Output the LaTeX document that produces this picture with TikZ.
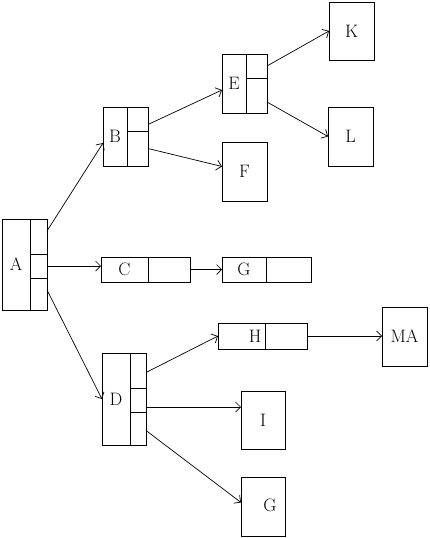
\documentclass[tikz,border=0pt]{standalone}
\usepackage{tikz}
\usetikzlibrary{arrows.meta}

\tikzset{
    cell/.style={draw, line width=0.8pt, inner sep=0pt, outer sep=0pt, anchor=north west,
        font=\fontsize{18}{20}\selectfont},
    lbl/.style={font=\fontsize{18}{20}\selectfont},
    link/.style={line width=0.7pt, -{Straight Barb[length=5pt,width=10pt]}}
}

\begin{document}
\begin{tikzpicture}[x=1pt,y=-1pt]
    \useasboundingbox (0,0) rectangle (429,538);

    % root A
    \node[cell, minimum width=28, minimum height=91] (Al) at (2,219) {A};
    \node[cell, minimum width=17, minimum height=35] (A1) at (30,219) {};
    \node[cell, minimum width=17, minimum height=24] (A2) at (30,254) {};
    \node[cell, minimum width=17, minimum height=32] (A3) at (30,278) {};

    % upper branch
    \node[cell, minimum width=24, minimum height=59] (Bl) at (103,107) {B};
    \node[cell, minimum width=21, minimum height=24] (B1) at (127,107) {};
    \node[cell, minimum width=21, minimum height=35] (B2) at (127,131) {};
    \node[cell, minimum width=24, minimum height=59] (El) at (222,54) {E};
    \node[cell, minimum width=21, minimum height=24] (E1) at (246,54) {};
    \node[cell, minimum width=21, minimum height=35] (E2) at (246,78) {};
    \node[cell, minimum width=45, minimum height=59] (F) at (222,142) {F};
    \node[cell, minimum width=45, minimum height=58] (K) at (329,2) {K};
    \node[cell, minimum width=45, minimum height=59] (L) at (328,107) {L};

    % middle branch
    \node[cell, minimum width=47, minimum height=25] (Cl) at (101,257) {C};
    \node[cell, minimum width=42, minimum height=25] (C1) at (148,257) {};
    \node[cell, minimum width=44, minimum height=25] (Gl) at (222,257) {G};
    \node[cell, minimum width=45, minimum height=25] (G1) at (266,257) {};

    % lower branch
    \node[cell, minimum width=28, minimum height=92] (Dl) at (102,353) {D};
    \node[cell, minimum width=16, minimum height=35] (D1) at (130,353) {};
    \node[cell, minimum width=16, minimum height=24] (D2) at (130,388) {};
    \node[cell, minimum width=16, minimum height=33] (D3) at (130,412) {};
    \node[cell, minimum width=47, minimum height=26] (Hl) at (218,323) {};
    \node[cell, minimum width=42, minimum height=26] (H1) at (265,323) {};
    \node[cell, minimum width=45, minimum height=59] (MA) at (382,307) {MA};
    \node[cell, minimum width=44, minimum height=58] (I) at (241,391) {I};
    \node[cell, minimum width=44, minimum height=59] (Gb) at (241,477) {};
    \node[lbl] (Ht) at (255,336) {H};
    \node[lbl] (Gbt) at (270,505) {G};

    % links
    \draw[link] ([yshift=5.5pt]A1.east) -- ([yshift=-6.5pt]Bl.west);
    \draw[link] (A2.east) -- (A2.east -| Cl.west);
    \draw[link] ([yshift=4pt]A3.east) -- (Dl.west);
    \draw[link] ([yshift=-5.5pt]B1.east) -- ([yshift=-6.5pt]El.west);
    \draw[link] (B2.east) -- ([yshift=5pt]F.west);
    \draw[link] (E1.east) -- (K.west);
    \draw[link] ([yshift=-6.5pt]E2.east) -- (L.west);
    \draw[link] (C1.east) -- (Gl.west);
    \draw[link] ([yshift=-2pt]D1.east) -- (Hl.west);
    \draw[link] ([yshift=-7pt]D2.east) -- ([yshift=-7pt]D2.east -| I.west);
    \draw[link] ([yshift=-2pt]D3.east) -- ([yshift=4pt]Gb.west);
    \draw[link] (H1.east) -- (H1.east -| MA.west);
\end{tikzpicture}
\end{document}
